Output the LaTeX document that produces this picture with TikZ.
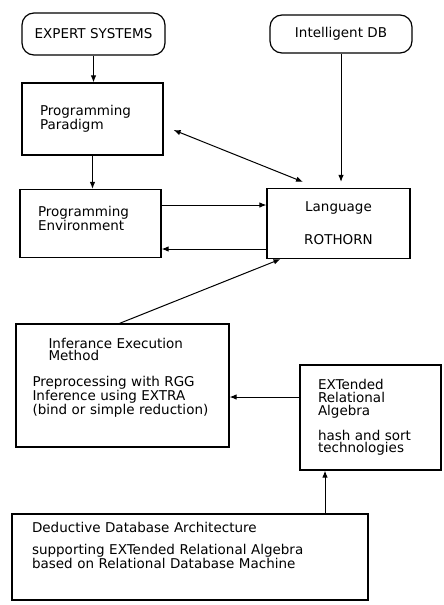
\documentclass[tikz,border=0pt]{standalone}
\usepackage{fontspec}
\setmainfont{DejaVu Sans}
\usetikzlibrary{arrows.meta}

\begin{document}
\begin{tikzpicture}[x=1pt,y=-1pt,font=\fontsize{13.5}{12.8}\selectfont]
      \tikzstyle{block} = [rectangle, draw=black, line width=1.2pt, inner ysep=0pt]
      \tikzstyle{source} = [block, rounded corners=12pt]
      \tikzstyle{textblock} = [block, align=left, inner xsep=18pt, text width=105pt]
      \tikzstyle{arrow} = [line width=1pt,->,>={Latex[length=7pt,width=5.5pt]}]

      \useasboundingbox (0,0) rectangle (444,605);

      \node (expert) [source, minimum width=143pt, minimum height=42pt] at (93.5,34) {EXPERT SYSTEMS};
      \node (intel-db) [source, minimum width=142pt, minimum height=38pt] at (341,34) {Intelligent DB};
      \node (paradigm) [textblock, minimum height=72pt] at (92.5,119) {Programming\\Paradigm};
      \node (environ) [textblock, minimum height=68pt] at (90.5,223.5) {Programming\\Environment\\[-3pt]\mbox{}};
      \node (language) [block, align=center, minimum width=143pt, minimum height=70pt] at (338.5,223.5) {Language\\[19.5pt]ROTHORN};
      \node (inference) [block, align=left, inner xsep=16.5pt, text width=180pt, minimum height=123pt] at (122.5,385.5)
        {\hspace*{16pt}Inferance Execution\\\hspace*{16pt}Method\\[12.5pt]Preprocessing with RGG\\Inference using EXTRA\\(bind or simple reduction)\\[6pt]\mbox{}};
      \node (extra) [textblock, minimum height=105pt] at (370.5,417.5) {EXTended\\Relational\\Algebra\\[11pt]hash and sort\\technologies};
      \node (deductive) [block, align=left, inner xsep=20pt, text width=316pt, minimum height=86pt] at (190,557)
        {Deductive Database Architecture\\[9pt]supporting EXTended Relational Algebra\\based on Relational Database Machine\\[10pt]\mbox{}};

      \coordinate (env-out) at ([yshift=18.5pt]environ.east);
      \coordinate (env-in) at ([yshift=-25.5pt]environ.east);

      \draw [arrow] (expert.south) -- (expert.south |- paradigm.north);
      \draw [arrow] (paradigm.south) -- (paradigm.south |- environ.north);
      \draw [arrow, <->] ([shift={(10,11)}]paradigm.east) -- ([shift={(-35.5,-6)}]language.north);
      \draw [arrow, shorten >=6pt] (intel-db.south) -- (intel-db.south |- language.north);
      \draw [arrow] (env-out) -- (env-out -| language.west);
      \draw [arrow] (env-in -| language.west) -- (env-in);
      \draw [arrow] ([xshift=-3pt]inference.north) -- ([xshift=-58pt]language.south);
      \draw [arrow] ([yshift=20.5pt]extra.west) -- ([yshift=-11.5pt]inference.east);
      \draw [arrow] ([xshift=135pt]deductive.north) -- ([xshift=-45.5pt]extra.south);
    \end{tikzpicture}
\end{document}
